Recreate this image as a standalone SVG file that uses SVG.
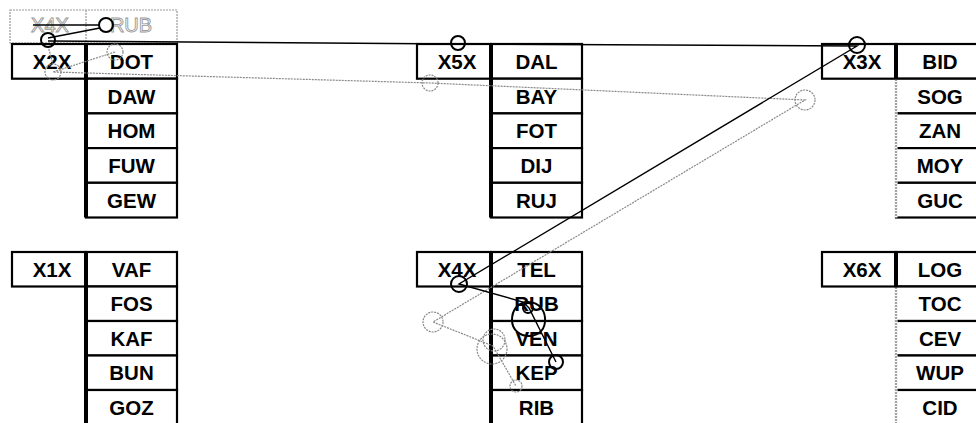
<svg xmlns="http://www.w3.org/2000/svg" width="976" height="423" viewBox="0 0 976 423">
<style>
.bg{fill:#fff}
.cell{fill:#fff;stroke:#000;stroke-width:2.2}
.sep{stroke:#000;stroke-width:4}
.dsep{stroke:#666;stroke-width:1.2;stroke-dasharray:2 1}
.wipe{stroke:#fff;stroke-width:3}
.lbl{font-family:"Liberation Sans",Arial,Helvetica,sans-serif;font-weight:bold;font-size:20.5px;text-anchor:middle;fill:#000}
.ghostbox{fill:none;stroke:#999;stroke-width:1.2;stroke-dasharray:2 1}
.ghosttxt{font-family:"Liberation Sans",Arial,Helvetica,sans-serif;font-size:20px;text-anchor:middle;fill:#fff;stroke:#999;stroke-width:0.9}
.wire{fill:none;stroke:#000;stroke-width:1.4}
.knot{fill:none;stroke:#000;stroke-width:2}
.trail{fill:none;stroke:#888;stroke-width:1.2;stroke-dasharray:2 1}
</style>
<rect class="bg" x="0" y="0" width="976" height="423"/>

<g id="ghost-X4X">
  <rect class="ghostbox" x="10" y="10" width="167" height="33"/>
  <line class="ghostbox" x1="86" y1="10" x2="86" y2="43"/>
  <text class="ghosttxt" x="50" y="32">X4X</text>
  <text class="ghosttxt" x="131" y="32">RUB</text>
</g>

<g id="X2X">
  <rect class="cell" x="12" y="44" width="74" height="34.7"/>
  <rect class="cell" x="86" y="44" width="91" height="34.7"/>
  <rect class="cell" x="86" y="78.7" width="91" height="34.7"/>
  <rect class="cell" x="86" y="113.4" width="91" height="34.7"/>
  <rect class="cell" x="86" y="148.1" width="91" height="34.7"/>
  <rect class="cell" x="86" y="182.8" width="91" height="34.7"/>
  <line class="sep" x1="86" y1="44" x2="86" y2="217.5"/>
  <text class="lbl" x="52" y="68.9">X2X</text>
  <text class="lbl" x="131.5" y="68.9">DOT</text>
  <text class="lbl" x="131.5" y="103.6">DAW</text>
  <text class="lbl" x="131.5" y="138.3">HOM</text>
  <text class="lbl" x="131.5" y="173">FUW</text>
  <text class="lbl" x="131.5" y="207.7">GEW</text>
</g>

<g id="X5X">
  <rect class="cell" x="417" y="44" width="74" height="34.7"/>
  <rect class="cell" x="491" y="44" width="91" height="34.7"/>
  <rect class="cell" x="491" y="78.7" width="91" height="34.7"/>
  <rect class="cell" x="491" y="113.4" width="91" height="34.7"/>
  <rect class="cell" x="491" y="148.1" width="91" height="34.7"/>
  <rect class="cell" x="491" y="182.8" width="91" height="34.7"/>
  <line class="sep" x1="491" y1="44" x2="491" y2="217.5"/>
  <text class="lbl" x="457" y="68.9">X5X</text>
  <text class="lbl" x="536.5" y="68.9">DAL</text>
  <text class="lbl" x="536.5" y="103.6">BAY</text>
  <text class="lbl" x="536.5" y="138.3">FOT</text>
  <text class="lbl" x="536.5" y="173">DIJ</text>
  <text class="lbl" x="536.5" y="207.7">RUJ</text>
</g>

<g id="X3X">
  <rect class="cell" x="822" y="44" width="74" height="34.7"/>
  <rect class="cell" x="896" y="44" width="91" height="34.7"/>
  <rect class="cell" x="896" y="78.7" width="91" height="34.7"/>
  <rect class="cell" x="896" y="113.4" width="91" height="34.7"/>
  <rect class="cell" x="896" y="148.1" width="91" height="34.7"/>
  <rect class="cell" x="896" y="182.8" width="91" height="34.7"/>
  <line class="sep" x1="896" y1="44" x2="896" y2="78.7"/>
  <line class="wipe" x1="896" y1="80" x2="896" y2="217.5"/>
  <line class="dsep" x1="896" y1="79" x2="896" y2="217.5"/>
  <text class="lbl" x="862" y="68.9">X3X</text>
  <text class="lbl" x="940" y="68.9">BID</text>
  <text class="lbl" x="940" y="103.6">SOG</text>
  <text class="lbl" x="940" y="138.3">ZAN</text>
  <text class="lbl" x="940" y="173">MOY</text>
  <text class="lbl" x="940" y="207.7">GUC</text>
</g>

<g id="X1X">
  <rect class="cell" x="12" y="252" width="74" height="34.5"/>
  <rect class="cell" x="86" y="252" width="91" height="34.5"/>
  <rect class="cell" x="86" y="286.5" width="91" height="34.5"/>
  <rect class="cell" x="86" y="321" width="91" height="34.5"/>
  <rect class="cell" x="86" y="355.5" width="91" height="34.5"/>
  <rect class="cell" x="86" y="390" width="91" height="34.5"/>
  <line class="sep" x1="86" y1="252" x2="86" y2="424.5"/>
  <text class="lbl" x="52" y="276.8">X1X</text>
  <text class="lbl" x="131.5" y="276.8">VAF</text>
  <text class="lbl" x="131.5" y="311.3">FOS</text>
  <text class="lbl" x="131.5" y="345.8">KAF</text>
  <text class="lbl" x="131.5" y="380.3">BUN</text>
  <text class="lbl" x="131.5" y="414.8">GOZ</text>
</g>

<g id="X4X">
  <rect class="cell" x="417" y="252" width="74" height="34.5"/>
  <rect class="cell" x="491" y="252" width="91" height="34.5"/>
  <rect class="cell" x="491" y="286.5" width="91" height="34.5"/>
  <rect class="cell" x="491" y="321" width="91" height="34.5"/>
  <rect class="cell" x="491" y="355.5" width="91" height="34.5"/>
  <rect class="cell" x="491" y="390" width="91" height="34.5"/>
  <line class="sep" x1="491" y1="252" x2="491" y2="424.5"/>
  <text class="lbl" x="457" y="276.8">X4X</text>
  <text class="lbl" x="536.5" y="276.8">TEL</text>
  <text class="lbl" x="536.5" y="311.3">RUB</text>
  <text class="lbl" x="536.5" y="345.8">VEN</text>
  <text class="lbl" x="536.5" y="380.3">KEP</text>
  <text class="lbl" x="536.5" y="414.8">RIB</text>
</g>

<g id="X6X">
  <rect class="cell" x="822" y="252" width="74" height="34.5"/>
  <rect class="cell" x="896" y="252" width="91" height="34.5"/>
  <rect class="cell" x="896" y="286.5" width="91" height="34.5"/>
  <rect class="cell" x="896" y="321" width="91" height="34.5"/>
  <rect class="cell" x="896" y="355.5" width="91" height="34.5"/>
  <rect class="cell" x="896" y="390" width="91" height="34.5"/>
  <line class="sep" x1="896" y1="252" x2="896" y2="286.5"/>
  <line class="wipe" x1="896" y1="288" x2="896" y2="424.5"/>
  <line class="dsep" x1="896" y1="287" x2="896" y2="424.5"/>
  <text class="lbl" x="862" y="276.8">X6X</text>
  <text class="lbl" x="940" y="276.8">LOG</text>
  <text class="lbl" x="940" y="311.3">TOC</text>
  <text class="lbl" x="940" y="345.8">CEV</text>
  <text class="lbl" x="940" y="380.3">WUP</text>
  <text class="lbl" x="940" y="414.8">CID</text>
</g>

<g id="connectors">
  <polyline class="trail" points="115,52 53,72 430,83 805,100 433,322 493,346 516,386"/>
  <line class="trail" x1="48" y1="46" x2="53" y2="64"/>
  <circle class="trail" cx="115" cy="52" r="8"/>
  <circle class="trail" cx="53" cy="72" r="8"/>
  <circle class="trail" cx="430" cy="83" r="8"/>
  <circle class="trail" cx="805" cy="100" r="10"/>
  <circle class="trail" cx="433" cy="322" r="10"/>
  <circle class="trail" cx="494" cy="340" r="11"/>
  <circle class="trail" cx="492" cy="349" r="15"/>
  <circle class="trail" cx="516" cy="386" r="6"/>
  <line class="wire" x1="33" y1="25" x2="100" y2="25"/>
  <line class="wire" x1="48" y1="38" x2="100" y2="28"/>
  <polyline class="wire" points="48,41 458,44 857,46 459,284 523,302 529,308 556,362"/>
  <circle class="knot" cx="106" cy="25" r="7"/>
  <circle class="knot" cx="48" cy="40" r="7"/>
  <circle class="knot" cx="458" cy="43" r="7"/>
  <circle class="knot" cx="857" cy="45" r="8"/>
  <circle class="knot" cx="459" cy="284" r="8"/>
  <circle class="knot" cx="528" cy="308" r="5"/>
  <path class="knot" d="M528,302 C540,302 546,312 545,322 C544,332 536,336 529,336 C520,336 512,330 512,320 C512,310 518,302 528,302 Z"/>
  <circle class="knot" cx="556" cy="362" r="7"/>
</g>
</svg>
